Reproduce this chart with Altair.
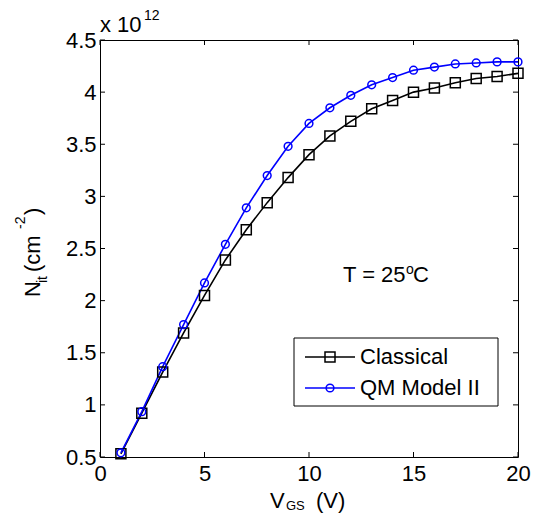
import altair as alt
import pandas as pd

# ---- data ----
vgs = list(range(1, 21))
classical = [0.53, 0.92, 1.315, 1.69, 2.05, 2.39, 2.68, 2.94, 3.18, 3.40,
             3.58, 3.72, 3.84, 3.92, 4.00, 4.04, 4.09, 4.13, 4.15, 4.18]
qm_model2 = [0.54, 0.935, 1.366, 1.77, 2.17, 2.54, 2.89, 3.20, 3.48, 3.70,
             3.85, 3.97, 4.07, 4.14, 4.21, 4.24, 4.27, 4.28, 4.29, 4.29]
series_names = ["Classical", "QM Model II"]
series_colors = ["#000000", "#0000FF"]
series_shapes = ["square", "circle"]
series_sizes = [100, 60]
x_ticks = [0, 5, 10, 15, 20]
y_ticks = [0.5, 1, 1.5, 2, 2.5, 3, 3.5, 4, 4.5]

W, H = 418, 417
OX, OY = 100, 40  # page position of plot origin
FONT = "Liberation Sans"

df = pd.concat([
    pd.DataFrame({"x": vgs, "y": classical, "series": series_names[0]}),
    pd.DataFrame({"x": vgs, "y": qm_model2, "series": series_names[1]}),
])

xscale = alt.Scale(domain=[0, 20], nice=False, zero=False)
yscale = alt.Scale(domain=[0.5, 4.5], nice=False, zero=False)
color = alt.Color("series:N", scale=alt.Scale(domain=series_names, range=series_colors), legend=None)

x_axis = alt.Axis(values=x_ticks, title=None, labelFlush=False, labelPadding=6,
                  grid=False, domain=False, ticks=False, tickSize=0, labelOverlap=False)
y_axis = alt.Axis(values=y_ticks, title=None, format="~g", labelFlush=False, labelPadding=4,
                  grid=False, domain=False, ticks=False, tickSize=0, labelOverlap=False)


def X(field):
    return alt.X(field, scale=xscale, axis=x_axis, title=None)


def Y(field):
    return alt.Y(field, scale=yscale, axis=y_axis, title=None)


lines = alt.Chart(df).mark_line(strokeWidth=1.6).encode(
    x=X("x:Q"), y=Y("y:Q"), color=color,
)
points = alt.Chart(df).mark_point(filled=False, strokeWidth=1.5, opacity=1).encode(
    x=X("x:Q"), y=Y("y:Q"), color=color,
    shape=alt.Shape("series:N", scale=alt.Scale(domain=series_names, range=series_shapes), legend=None),
    size=alt.Size("series:N", scale=alt.Scale(domain=series_names, range=series_sizes), legend=None),
)

# inward ticks on all four sides
xt = pd.DataFrame({"x": x_ticks})
yt = pd.DataFrame({"y": y_ticks})
TL = 5
tick_layers = [
    alt.Chart(xt).mark_rule(color="black", strokeWidth=1).encode(
        x=X("x:Q"), y=alt.value(H), y2=alt.value(H - TL)),
    alt.Chart(xt).mark_rule(color="black", strokeWidth=1).encode(
        x=X("x:Q"), y=alt.value(0), y2=alt.value(TL)),
    alt.Chart(yt).mark_rule(color="black", strokeWidth=1).encode(
        y=Y("y:Q"), x=alt.value(0), x2=alt.value(TL)),
    alt.Chart(yt).mark_rule(color="black", strokeWidth=1).encode(
        y=Y("y:Q"), x=alt.value(W - TL), x2=alt.value(W)),
]


def txt(text, px, py, size, angle=0, align="left", baseline="alphabetic", col="black"):
    kw = dict(font=FONT, fontSize=size, align=align, baseline=baseline, color=col)
    if angle:
        kw["angle"] = angle
    return alt.Chart(pd.DataFrame({"label": [text]})).mark_text(**kw).encode(
        x=alt.value(px - OX), y=alt.value(py - OY), text="label:N")


texts = [
    # x-axis title  V_GS (V)
    txt("V", 270, 508, 22),
    txt("GS", 286, 510, 13),
    txt("(V)", 316, 508, 22),
    # y-axis title  N_it (cm^-2)
    txt("N", 39.5, 297, 22, angle=270),
    txt("it", 47, 283, 14, angle=270),
    txt("(cm", 39.5, 272, 22, angle=270),
    txt("-2", 25, 229, 14, angle=270),
    txt(")", 39.5, 215, 22, angle=270),
    # multiplier
    txt("x 10", 100, 32, 22),
    txt("12", 144, 20, 14),
    # annotation T = 25 oC
    txt("T = 25", 343, 282, 22),
    txt("o", 406, 274, 14),
    txt("C", 413, 282, 22),
]

# legend (drawn manually)
LX0, LX1, LY0, LY1 = 294, 498, 338, 406
leg_box = alt.Chart(pd.DataFrame({"a": [0]})).mark_rect(
    fill="white", stroke="black", strokeWidth=1).encode(
    x=alt.value(LX0 - OX), x2=alt.value(LX1 - OX), y=alt.value(LY0 - OY), y2=alt.value(LY1 - OY))
legend_layers = [leg_box]
for i, (name, col, shp, sz) in enumerate(zip(series_names, series_colors, series_shapes, series_sizes)):
    ly = 357 + i * 31
    legend_layers.append(alt.Chart(pd.DataFrame({"a": [0]})).mark_rule(color=col, strokeWidth=1.5).encode(
        x=alt.value(305 - OX), x2=alt.value(355 - OX), y=alt.value(ly - OY)))
    legend_layers.append(alt.Chart(pd.DataFrame({"a": [0]})).mark_point(
        shape=shp, size=sz, filled=False, color=col, strokeWidth=1.5, opacity=1).encode(
        x=alt.value(330 - OX), y=alt.value(ly - OY)))
    legend_layers.append(txt(name, 360, ly, 22, baseline="middle"))

chart = alt.layer(lines, points, *tick_layers, *texts, *legend_layers).properties(
    width=W, height=H,
    padding={"left": OX - 8, "top": OY - 8, "right": 14, "bottom": 56},
    autosize=alt.AutoSizeParams(type="none"),
    background="white",
).configure_view(
    stroke="black", strokeWidth=1
).configure_axis(
    labelFont=FONT, labelFontSize=22, labelColor="black",
)

chart.save("out.html", embed_options={"renderer": "svg", "actions": False})
